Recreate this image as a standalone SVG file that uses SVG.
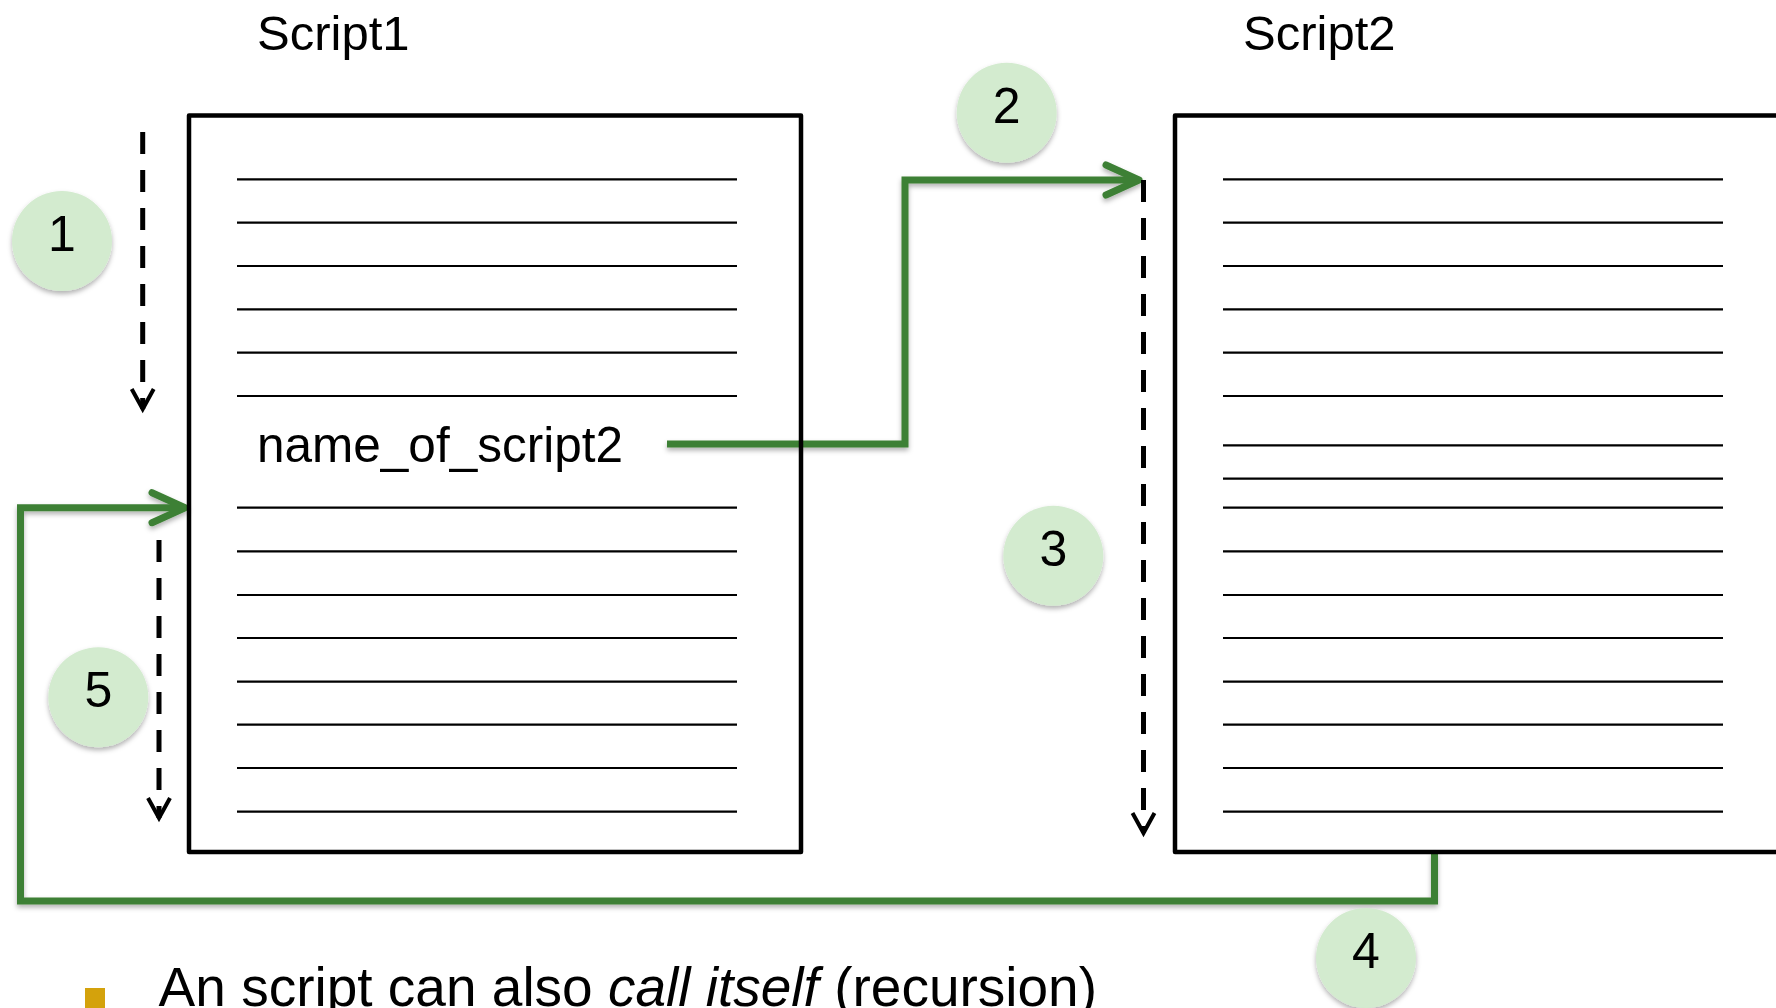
<svg xmlns="http://www.w3.org/2000/svg" width="1776" height="1008" viewBox="0 0 1776 1008">
<style>
.box{fill:none;stroke:#000;stroke-width:4.5;stroke-linejoin:round}
.ln{stroke:#000;stroke-width:2.2}
.t{font-family:"Liberation Sans",Arial,sans-serif;fill:#000}
.badge{fill:#d3ebcf}
.num{font-family:"Liberation Sans",Arial,sans-serif;font-size:50px;fill:#000;text-anchor:middle}
.g{fill:none;stroke:#3d8035;stroke-width:7}
.d{fill:none;stroke:#000;stroke-width:5;stroke-dasharray:22 16}
</style>
<defs>
<filter id="sh" x="-20%" y="-20%" width="140%" height="140%">
<feDropShadow dx="0" dy="3" stdDeviation="2.5" flood-color="#000" flood-opacity="0.3"/>
</filter>
<marker id="ga" markerUnits="userSpaceOnUse" markerWidth="50" markerHeight="50" viewBox="-40 -25 50 50" refX="0" refY="0" orient="auto" overflow="visible">
<path d="M-33,-15 L0,0 L-33,15" fill="none" stroke="#3d8035" stroke-width="7" stroke-linecap="round" stroke-linejoin="round"/>
</marker>
<marker id="da" markerUnits="userSpaceOnUse" markerWidth="40" markerHeight="40" viewBox="-30 -20 40 40" refX="0" refY="0" orient="auto" overflow="visible">
<path d="M-20,-11 L0,0 L-20,11" fill="none" stroke="#000" stroke-width="4"/>
</marker>
</defs>
<rect width="1776" height="1008" fill="#fff"/>

<g id="connectors">
<path class="g" filter="url(#sh)" d="M667,444 H905 V180 H1139" marker-end="url(#ga)"/>
<path class="g" filter="url(#sh)" d="M1434.5,852 V901 H20.5 V507.7 H185" marker-end="url(#ga)"/>
<path class="d" d="M142.7,132 V409" marker-end="url(#da)"/>
<path class="d" d="M1143.5,180 V833" marker-end="url(#da)"/>
<path class="d" d="M159,540 V818" marker-end="url(#da)"/>
</g>

<g id="script1">
<text class="t" x="257" y="50" font-size="49">Script1</text>
<rect class="box" x="189" y="115.5" width="612" height="736.5"/>
<g class="ln">
<line x1="237" y1="179.3" x2="737" y2="179.3"/>
<line x1="237" y1="222.7" x2="737" y2="222.7"/>
<line x1="237" y1="266" x2="737" y2="266"/>
<line x1="237" y1="309.3" x2="737" y2="309.3"/>
<line x1="237" y1="352.7" x2="737" y2="352.7"/>
<line x1="237" y1="396" x2="737" y2="396"/>
<line x1="237" y1="507.7" x2="737" y2="507.7"/>
<line x1="237" y1="551.3" x2="737" y2="551.3"/>
<line x1="237" y1="595" x2="737" y2="595"/>
<line x1="237" y1="638" x2="737" y2="638"/>
<line x1="237" y1="681.7" x2="737" y2="681.7"/>
<line x1="237" y1="724.7" x2="737" y2="724.7"/>
<line x1="237" y1="768" x2="737" y2="768"/>
<line x1="237" y1="811.7" x2="737" y2="811.7"/>
</g>
<text class="t" x="257" y="462" font-size="49.5">name_of_script2</text>
</g>

<g id="script2">
<text class="t" x="1243" y="50" font-size="49">Script2</text>
<rect class="box" x="1175" y="115.5" width="640" height="736.5"/>
<g class="ln">
<line x1="1223" y1="179.3" x2="1723" y2="179.3"/>
<line x1="1223" y1="222.7" x2="1723" y2="222.7"/>
<line x1="1223" y1="266" x2="1723" y2="266"/>
<line x1="1223" y1="309.3" x2="1723" y2="309.3"/>
<line x1="1223" y1="352.7" x2="1723" y2="352.7"/>
<line x1="1223" y1="396" x2="1723" y2="396"/>
<line x1="1223" y1="445.3" x2="1723" y2="445.3"/>
<line x1="1223" y1="478.7" x2="1723" y2="478.7"/>
<line x1="1223" y1="507.7" x2="1723" y2="507.7"/>
<line x1="1223" y1="551.3" x2="1723" y2="551.3"/>
<line x1="1223" y1="595" x2="1723" y2="595"/>
<line x1="1223" y1="638" x2="1723" y2="638"/>
<line x1="1223" y1="681.7" x2="1723" y2="681.7"/>
<line x1="1223" y1="724.7" x2="1723" y2="724.7"/>
<line x1="1223" y1="768" x2="1723" y2="768"/>
<line x1="1223" y1="811.7" x2="1723" y2="811.7"/>
</g>
</g>

<g id="step1"><circle class="badge" filter="url(#sh)" cx="62" cy="241" r="50"/><text class="num" x="62" y="251">1</text></g>
<g id="step2"><circle class="badge" filter="url(#sh)" cx="1006.7" cy="112.8" r="50"/><text class="num" x="1006.7" y="122.8">2</text></g>
<g id="step3"><circle class="badge" filter="url(#sh)" cx="1053.3" cy="555.8" r="50"/><text class="num" x="1053.3" y="565.8">3</text></g>
<g id="step4"><circle class="badge" filter="url(#sh)" cx="1366" cy="958" r="50"/><text class="num" x="1366" y="968">4</text></g>
<g id="step5"><circle class="badge" filter="url(#sh)" cx="98.3" cy="697.2" r="50"/><text class="num" x="98.3" y="707.2">5</text></g>

<g id="bullet">
<rect x="85" y="988" width="20" height="20" fill="#d4a20c"/>
<text class="t" x="158.6" y="1006" font-size="55">An script can also <tspan font-style="italic">call itself</tspan> (recursion)</text>
</g>
</svg>
